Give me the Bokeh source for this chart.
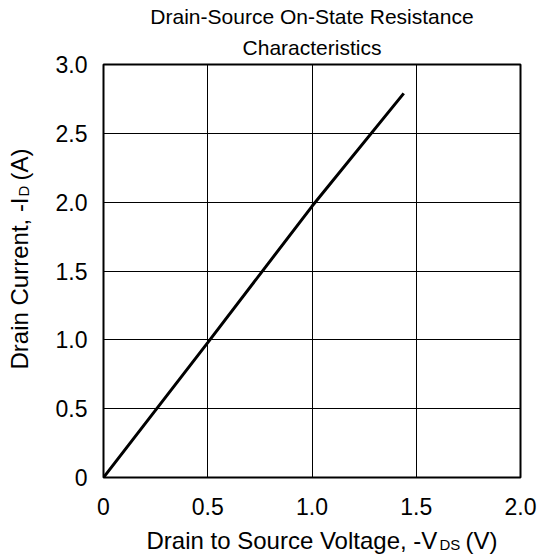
import math
from bokeh.plotting import figure
from bokeh.models import FixedTicker, Range1d, Title
from bokeh.layouts import row, column
from bokeh.core.properties import value
from bokeh.embed import file_html
from bokeh.resources import INLINE

# ---- data ----
vds = [0.0, 0.5, 1.0, 1.44]          # -VDS (V)
i_d = [0.0, 0.98, 1.97, 2.79]        # -ID (A)

x_ticks = [0, 0.5, 1.0, 1.5, 2.0]
x_tick_labels = ["0", "0.5", "1.0", "1.5", "2.0"]
y_ticks = [0, 0.5, 1.0, 1.5, 2.0, 2.5, 3.0]
y_tick_labels = ["0", "0.5", "1.0", "1.5", "2.0", "2.5", "3.0"]

title_lines = ["Drain-Source On-State Resistance", "Characteristics"]
xlabel_parts = ["Drain to Source Voltage, -V", "DS", "(V)"]
ylabel_parts = ["Drain Current, -I", "D", "(A)"]

FONT = "Liberation Sans"
W, H = 539, 558
YLAB_W = 40          # strip holding the y-axis title
XLAB_H = 33          # strip holding the x-axis title
MAIN_W, MAIN_H = W - YLAB_W, H - XLAB_H
FR_TOP, FR_BOT = 64, 477   # frame top / bottom in page pixels

# ---------------- main chart ----------------
p = figure(width=MAIN_W, height=MAIN_H, output_backend="svg", toolbar_location=None,
           x_range=Range1d(0, 2), y_range=Range1d(0, 3),
           min_border_left=103 - YLAB_W, min_border_right=MAIN_W - (103 - YLAB_W) - 417,
           min_border_top=FR_TOP, min_border_bottom=MAIN_H - FR_BOT)
p.title = None
p.background_fill_color = "white"
p.border_fill_color = "white"
p.outline_line_color = "black"
p.outline_line_width = 2

p.line(vds, i_d, line_color="black", line_width=3)

for ax, ticks, labels, so in ((p.xaxis[0], x_ticks, x_tick_labels, 20),
                              (p.yaxis[0], y_ticks, y_tick_labels, 16)):
    ax.ticker = FixedTicker(ticks=ticks)
    ax.major_label_overrides = {t: l for t, l in zip(ticks, labels)}
    ax.axis_line_color = None
    ax.major_tick_line_color = None
    ax.minor_tick_line_color = None
    ax.major_tick_out = 0
    ax.major_tick_in = 0
    ax.major_label_text_font = FONT
    ax.major_label_text_font_size = "23px"
    ax.major_label_text_color = "black"
    ax.major_label_standoff = so
    ax.axis_label = None

p.xgrid.ticker = FixedTicker(ticks=x_ticks)
p.ygrid.ticker = FixedTicker(ticks=y_ticks)
for g in (p.xgrid[0], p.ygrid[0]):
    g.grid_line_color = "black"
    g.grid_line_width = 1
    g.grid_line_alpha = 1.0

# title: second line added first so it sits closest to the plot
for line, so in zip(reversed(title_lines), [11, 1]):
    p.add_layout(Title(text=line, align="center", text_font=FONT, text_font_size="21px",
                       text_font_style="normal", text_color="black", standoff=so), "above")


def strip(w, h, yr, top=0, bottom=0):
    f = figure(width=w, height=h, output_backend="svg", toolbar_location=None,
               x_range=Range1d(0, w), y_range=yr,
               x_axis_location=None, y_axis_location=None,
               min_border=0, min_border_left=0, min_border_right=0,
               min_border_top=top, min_border_bottom=bottom)
    f.title = None
    f.xgrid.visible = False
    f.ygrid.visible = False
    f.outline_line_color = None
    f.background_fill_color = "white"
    f.border_fill_color = "white"
    return f


# ---------------- y-axis title strip (frame aligned with the chart frame) ----------------
# data y = -(page pixel y)
yl = strip(YLAB_W, MAIN_H, Range1d(-FR_BOT, -FR_TOP), top=FR_TOP, bottom=MAIN_H - FR_BOT)
ang = math.pi / 2
for txt, px, py, size in ((ylabel_parts[0], 18.5, 369, "24px"),
                          (ylabel_parts[1], 23, 196, "15px"),
                          (ylabel_parts[2], 18.5, 180, "24px")):
    yl.text(x=[px], y=[-py], text=[txt], angle=ang, text_align="left",
            text_baseline="middle", text_font=value(FONT), text_font_size=value(size),
            text_color="black")

# ---------------- x-axis title strip ----------------
# data y = H - (page pixel y)
xl = strip(W, XLAB_H, Range1d(0, XLAB_H))
for txt, px, py, size in ((xlabel_parts[0], 146, 539.5, "24px"),
                          (xlabel_parts[1], 439, 544, "15px"),
                          (xlabel_parts[2], 465, 539.5, "24px")):
    xl.text(x=[px], y=[H - py], text=[txt], text_align="left",
            text_baseline="middle", text_font=value(FONT), text_font_size=value(size),
            text_color="black")

layout = column(row(yl, p, spacing=0), xl, spacing=0)
open("out.html", "w").write(file_html(layout, INLINE))
